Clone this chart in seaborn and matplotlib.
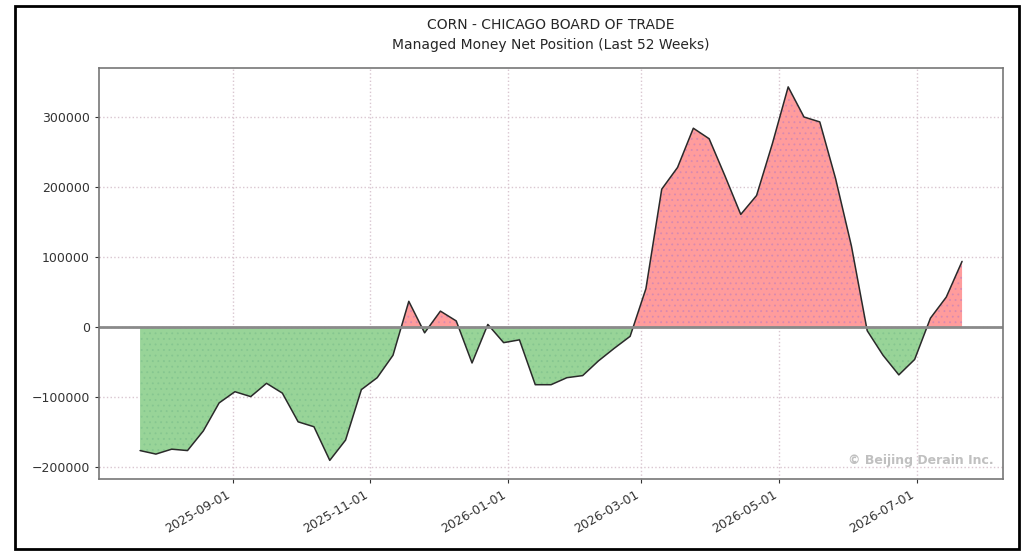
import numpy as np
import pandas as pd
import matplotlib
matplotlib.use("Agg")
import matplotlib.pyplot as plt
import matplotlib.dates as mdates
import seaborn as sns

# weekly report dates (Tuesdays)
dates = pd.date_range("2025-07-22", "2026-07-21", freq="7D")

# managed money net position
net_position = [
    -176000, -181000, -174000, -176000, -148000, -108000, -92000, -99000,
    -80000, -94000, -135000, -142000, -190000, -161000, -89000, -72000,
    -40000, 37000, -8000, 23000, 9000, -51000, 4000, -22000,
    -18000, -82000, -82000, -72000, -69000, -48000, -30000, -13000,
    55000, 197000, 228000, 284000, 269000, 216000, 161000, 188000,
    262000, 343000, 300000, 293000, 212000, 116000, -5000, -40000,
    -68000, -46000, 13000, 43000, 94000,
]

title_main = "CORN - CHICAGO BOARD OF TRADE"
title_sub = "Managed Money Net Position (Last 52 Weeks)"
watermark = "\u00a9 Beijing Derain Inc."

df = pd.DataFrame({"date": dates, "net": net_position})

sns.set_style("white")
plt.rcParams["font.family"] = ["DejaVu Sans"]
plt.rcParams["hatch.linewidth"] = 0.6

fig = plt.figure(figsize=(10.31, 5.59), dpi=100)
ax = fig.add_axes([0.096, 0.143, 0.877, 0.735])

x = mdates.date2num(df["date"])
y = df["net"].to_numpy()

# red above zero, green below, with a fine dot texture
ax.fill_between(x, y, 0, where=y >= 0, interpolate=True,
                facecolor="#ff9c9c", edgecolor="#d88ab0", hatch="...", linewidth=0)
ax.fill_between(x, y, 0, where=y <= 0, interpolate=True,
                facecolor="#98d498", edgecolor="#86c690", hatch="...", linewidth=0)
sns.lineplot(data=df, x="date", y="net", ax=ax, color="#2a2a2a", linewidth=1.1)
ax.axhline(0, color="#8a8a8a", linewidth=2)

ax.xaxis.set_major_locator(mdates.MonthLocator(bymonth=[1, 3, 5, 7, 9, 11]))
ax.xaxis.set_major_formatter(mdates.DateFormatter("%Y-%m-%d"))
ax.set_yticks([-200000, -100000, 0, 100000, 200000, 300000])
ax.margins(x=0.05, y=0.05)

ax.grid(True, linestyle=":", color="#d9c6d0", linewidth=1)
ax.tick_params(axis="both", labelsize=9, colors="#333333", length=3, left=True, bottom=True)
plt.setp(ax.get_xticklabels(), rotation=30, ha="right")
for s in ax.spines.values():
    s.set_color("#777777")
    s.set_linewidth(1.2)
ax.set_xlabel("")
ax.set_ylabel("")

ax.set_title(title_main + "\n" + title_sub, fontsize=10, pad=14, linespacing=1.5)

ax.text(0.99, 0.03, watermark, transform=ax.transAxes, ha="right", va="bottom",
        fontsize=9, color="#c0c0c0", fontweight="bold")

# outer frame of the picture
fig.patches.append(plt.Rectangle((0.0145, 0.018), 0.974, 0.972, transform=fig.transFigure,
                                 fill=False, edgecolor="black", linewidth=2))

fig.savefig("out.png", dpi=100)
